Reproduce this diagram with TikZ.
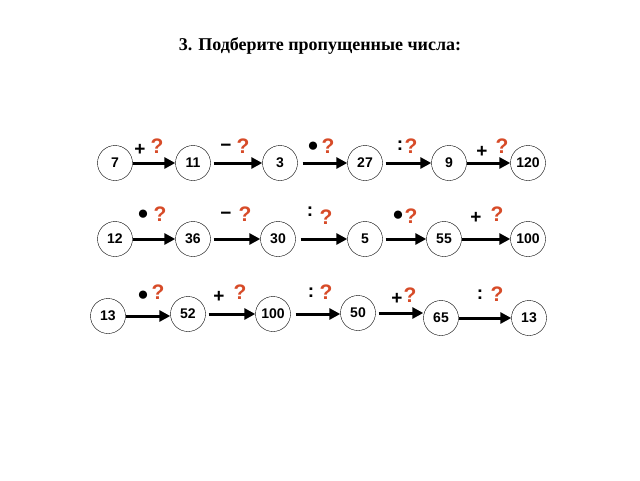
\documentclass[tikz,border=0pt]{standalone}
\usepackage{fontspec}
\setmainfont{Liberation Sans}
\newfontfamily\serifb{Liberation Serif}
\usetikzlibrary{arrows.meta}
\definecolor{qred}{RGB}{215,75,40}
\begin{document}
\begin{tikzpicture}[x=1pt,y=-1pt,
 num/.style={circle,draw,thin,minimum size=35pt,inner sep=0pt,font=\bfseries\fontsize{14}{14}\selectfont},
 arr/.style={line width=3pt,-{Triangle[length=11pt,width=11pt]}},
 op/.style={font=\bfseries\fontsize{19}{19}\selectfont},
 q/.style={text=qred,font=\bfseries\fontsize{21}{21}\selectfont}]
\useasboundingbox[fill=white] (0,0) rectangle (640,480);
\node[font=\serifb\bfseries\fontsize{18}{18}\selectfont] (title) at (320,46) {3. Подберите пропущенные числа:};
% row 1
\node[num] (a1) at (115,163) {7};
\node[num] (a2) at (193,163) {11};
\node[num] (a3) at (280,163) {3};
\node[num] (a4) at (365,163) {27};
\node[num] (a5) at (449,163) {9};
\node[num] (a6) at (528,163) {120};
% row 2
\node[num] (b1) at (115,239) {12};
\node[num] (b2) at (193,239) {36};
\node[num] (b3) at (278,239) {30};
\node[num] (b4) at (365,239) {5};
\node[num] (b5) at (444,239) {55};
\node[num] (b6) at (528,239) {100};
% row 3
\node[num] (c1) at (108,316) {13};
\node[num] (c2) at (188,314) {52};
\node[num] (c3) at (273,314) {100};
\node[num] (c4) at (358,313) {50};
\node[num] (c5) at (441,318) {65};
\node[num] (c6) at (529,318) {13};
\foreach \r in {a,b,c}{
 \draw[arr] (\r1.east) -- (\r1.east -| \r2.west);
 \draw[arr] ([xshift=3pt]\r2.east) -- (\r2.east -| \r3.west);
 \draw[arr] ([xshift=5pt]\r3.east) -- (\r3.east -| \r4.west);
 \draw[arr] ([xshift=3pt]\r4.east) -- (\r4.east -| \r5.west);
 \draw[arr] (\r5.east) -- (\r5.east -| \r6.west);
}
% row 1 labels
\node[op] (o11) at (140,150) {+}; \node[q] (q11) at (157,146) {?};
\node[op] (o12) at (226,148) {−}; \node[q] (q12) at (243,146) {?};
\node[op] (o13) at (313,147) {●}; \node[q] (q13) at (328,146) {?};
\node[op] (o14) at (400,146) {:}; \node[q] (q14) at (411,146) {?};
\node[op] (o15) at (482,152) {+}; \node[q] (q15) at (502,146) {?};
% row 2 labels
\node[op] (o21) at (143,215) {●}; \node[q] (q21) at (160,214) {?};
\node[op] (o22) at (226,216) {−}; \node[q] (q22) at (245,214) {?};
\node[op] (o23) at (310,212) {:}; \node[q] (q23) at (326,217) {?};
\node[op] (o24) at (398,216) {●}; \node[q] (q24) at (411,216) {?};
\node[op] (o25) at (476,218) {+}; \node[q] (q25) at (497,214) {?};
% row 3 labels
\node[op] (o31) at (143,296) {●}; \node[q] (q31) at (158,292) {?};
\node[op] (o32) at (219,297) {+}; \node[q] (q32) at (240,292) {?};
\node[op] (o33) at (311,293) {:}; \node[q] (q33) at (326,292) {?};
\node[op] (o34) at (397,299) {+}; \node[q] (q34) at (410,295) {?};
\node[op] (o35) at (480,295) {:}; \node[q] (q35) at (497,294) {?};
\end{tikzpicture}
\end{document}
